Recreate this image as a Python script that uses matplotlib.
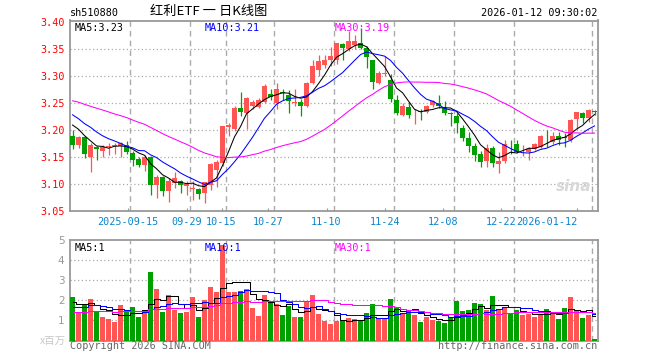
import numpy as np
import matplotlib
matplotlib.use("Agg")
import matplotlib.pyplot as plt

# daily K data, 2025-09-01 .. 2026-01-12 (88 trading days)
opens = [3.189, 3.173, 3.187, 3.151, 3.169, 3.162, 3.168, 3.170, 3.170, 3.173,
         3.157, 3.147, 3.136, 3.151, 3.098, 3.113, 3.088, 3.102, 3.106, 3.096,
         3.092, 3.091, 3.083, 3.099, 3.127, 3.140, 3.205, 3.202, 3.241, 3.231,
         3.245, 3.243, 3.251, 3.267, 3.249, 3.271, 3.265, 3.249, 3.251, 3.244,
         3.286, 3.310, 3.320, 3.330, 3.330, 3.358, 3.350, 3.356, 3.360, 3.352,
         3.329, 3.286, 3.303, 3.293, 3.256, 3.228, 3.243, 3.229, 3.234, 3.234,
         3.247, 3.249, 3.241, 3.231, 3.226, 3.203, 3.186, 3.171, 3.156, 3.143,
         3.167, 3.137, 3.143, 3.173, 3.174, 3.159, 3.159, 3.165, 3.168, 3.189,
         3.178, 3.188, 3.187, 3.182, 3.220, 3.231, 3.222, 3.234]
highs = [3.200, 3.189, 3.189, 3.176, 3.171, 3.173, 3.176, 3.176, 3.177, 3.180,
         3.162, 3.151, 3.154, 3.152, 3.117, 3.115, 3.111, 3.123, 3.108, 3.105,
         3.105, 3.093, 3.104, 3.139, 3.144, 3.208, 3.213, 3.245, 3.271, 3.260,
         3.255, 3.259, 3.284, 3.276, 3.287, 3.276, 3.273, 3.275, 3.258, 3.289,
         3.329, 3.338, 3.339, 3.353, 3.361, 3.361, 3.382, 3.375, 3.388, 3.355,
         3.330, 3.309, 3.336, 3.304, 3.265, 3.249, 3.251, 3.238, 3.238, 3.247,
         3.256, 3.265, 3.253, 3.233, 3.232, 3.209, 3.196, 3.176, 3.162, 3.174,
         3.170, 3.159, 3.182, 3.182, 3.182, 3.172, 3.168, 3.176, 3.190, 3.200,
         3.196, 3.196, 3.194, 3.220, 3.234, 3.233, 3.238, 3.236]
lows = [3.165, 3.167, 3.148, 3.122, 3.144, 3.150, 3.154, 3.156, 3.150, 3.156,
        3.134, 3.131, 3.125, 3.080, 3.075, 3.079, 3.067, 3.093, 3.083, 3.080,
        3.071, 3.072, 3.066, 3.090, 3.094, 3.133, 3.188, 3.198, 3.225, 3.202,
        3.239, 3.241, 3.249, 3.255, 3.238, 3.255, 3.232, 3.244, 3.225, 3.243,
        3.284, 3.299, 3.314, 3.318, 3.321, 3.330, 3.346, 3.350, 3.350, 3.315,
        3.275, 3.284, 3.299, 3.251, 3.228, 3.225, 3.222, 3.211, 3.218, 3.231,
        3.243, 3.240, 3.228, 3.207, 3.194, 3.180, 3.159, 3.143, 3.131, 3.131,
        3.131, 3.120, 3.139, 3.156, 3.157, 3.152, 3.145, 3.164, 3.166, 3.168,
        3.174, 3.172, 3.168, 3.177, 3.202, 3.213, 3.214, 3.227]
closes = [3.173, 3.187, 3.155, 3.173, 3.165, 3.168, 3.171, 3.173, 3.176, 3.160,
          3.144, 3.136, 3.151, 3.098, 3.114, 3.088, 3.106, 3.112, 3.098, 3.101,
          3.093, 3.082, 3.104, 3.138, 3.141, 3.207, 3.210, 3.241, 3.233, 3.259,
          3.251, 3.256, 3.282, 3.261, 3.275, 3.269, 3.253, 3.252, 3.244, 3.287,
          3.318, 3.327, 3.330, 3.336, 3.360, 3.351, 3.365, 3.365, 3.352, 3.335,
          3.288, 3.306, 3.305, 3.257, 3.231, 3.245, 3.228, 3.230, 3.233, 3.245,
          3.253, 3.244, 3.231, 3.230, 3.213, 3.185, 3.171, 3.154, 3.141, 3.167,
          3.139, 3.143, 3.174, 3.172, 3.160, 3.160, 3.165, 3.174, 3.188, 3.188,
          3.188, 3.182, 3.186, 3.219, 3.233, 3.222, 3.236, 3.233]
# volume, millions of shares
volumes = [2.18, 1.40, 1.77, 2.07, 1.40, 1.18, 1.07, 0.92, 1.77, 1.40,
           1.67, 1.18, 1.50, 3.42, 2.58, 1.42, 2.25, 1.52, 1.37, 1.42,
           2.18, 1.18, 2.00, 2.67, 2.42, 4.73, 2.42, 2.42, 2.47, 2.58,
           1.63, 1.23, 2.28, 1.95, 1.80, 1.28, 1.73, 1.18, 1.18, 1.95,
           2.28, 1.32, 0.98, 0.83, 0.98, 0.98, 1.12, 1.07, 1.02, 1.37,
           1.82, 1.10, 1.08, 2.07, 1.67, 1.37, 1.50, 1.28, 0.93, 1.18,
           1.02, 0.98, 0.88, 1.12, 1.97, 1.47, 1.52, 1.87, 1.82, 1.52,
           2.22, 1.52, 1.63, 1.37, 1.52, 1.27, 1.32, 1.18, 1.28, 1.57,
           1.37, 1.07, 1.62, 2.17, 1.47, 1.12, 1.27, 0.07]
# the 29 sessions before the window (estimated, only feed the moving averages)
prior_close = [3.262, 3.275, 3.281, 3.270, 3.266, 3.279, 3.284, 3.271, 3.268,
               3.276, 3.265, 3.259, 3.272, 3.281, 3.268,
               3.262, 3.255, 3.248, 3.241, 3.252, 3.259, 3.246, 3.240, 3.251,
               3.238, 3.226, 3.214, 3.221, 3.212]
prior_volume = [1.10, 1.35, 1.20, 1.45, 1.05, 1.30, 1.15, 1.50, 1.25, 1.40,
                1.20, 1.10, 1.35, 1.30, 1.45, 1.15, 1.25, 1.30, 1.20, 1.40,
                1.30, 1.55, 1.20, 1.45, 1.50, 1.70, 2.00, 1.75, 1.87]

date_idx = [10, 20, 26, 34, 44, 54, 64, 74, 87]
date_lbl = ["2025-09-15", "09-29", "10-15", "10-27", "11-10", "11-24",
            "12-08", "12-22", "2026-01-12"]

RED = "#ff5555"
GREEN = "#00a000"
GRID = "#aaaaaa"
FRAME = "#999999"
MONO = "DejaVu Sans Mono"

n = len(closes)
x = np.arange(n)
o = np.array(opens); c = np.array(closes)
h = np.array(highs); l = np.array(lows)
v = np.array(volumes)
up = c >= o
cols = [RED if u else GREEN for u in up]


def ma(prior, vals, k):
    s = np.concatenate([prior, vals])
    out = np.convolve(s, np.ones(k) / k, mode="valid")
    return out[-len(vals):]


fig = plt.figure(figsize=(6.6, 3.6), dpi=100)
ax = fig.add_axes([70 / 660, 1 - 211.3 / 360, 527.7 / 660, 190.8 / 360])
axv = fig.add_axes([70 / 660, 1 - 340.5 / 360, 527.7 / 660, 100.5 / 360])

xl = (-0.42, 87.53)

# candles
ax.vlines(x, l, h, colors=cols, linewidth=0.9, zorder=3)
body = np.maximum(np.abs(c - o), 0.0012)
ax.bar(x, body, bottom=np.minimum(o, c), width=0.8, color=cols,
       linewidth=0, zorder=4)

ma5 = ma(prior_close, c, 5)
ma10 = ma(prior_close, c, 10)
ma30 = ma(prior_close, c, 30)
ax.plot(x, ma5, color="black", lw=0.75, zorder=5)
ax.plot(x, ma10, color="#0000ff", lw=0.75, zorder=5)
ax.plot(x, ma30, color="#ff00ff", lw=0.75, zorder=5)

ax.set_xlim(*xl)
ax.set_ylim(3.05, 3.402)
yt = np.arange(3.05, 3.401, 0.05)
ax.set_yticks(yt)
ax.set_yticklabels(["%.2f" % t for t in yt], color="#ff0000",
                   fontfamily=MONO, fontsize=7.3)
for t in yt[1:-1]:
    ax.axhline(t, color=GRID, lw=0.9, ls=(0, (1, 2)), zorder=1)

# label scale (sina places labels on a slightly narrower slot grid)
lab_x = [xl[0] + i * (xl[1] - xl[0]) / 90.5 for i in date_idx]
ax.set_xticks(lab_x)
ax.set_xticklabels(date_lbl, color="#0a84cc", fontfamily=MONO, fontsize=7.3)
ax.get_xticklabels()[-1].set_horizontalalignment("right")
ax.tick_params(axis="x", direction="in", length=2, color=FRAME, pad=4)
ax.tick_params(axis="y", length=0, pad=4)

for a in (ax, axv):
    for i in date_idx:
        a.axvline(i - 0.42, color=GRID, lw=1, ls=(0, (4, 3)), zorder=1)
    for s in a.spines.values():
        s.set_color(FRAME)
        s.set_linewidth(1.3)

ax.text(0.009, 0.985, "MA5:%.2f" % ma5[-1], transform=ax.transAxes,
        fontfamily=MONO, fontsize=7.3, color="black", va="top")
ax.text(0.255, 0.985, "MA10:%.2f" % ma10[-1], transform=ax.transAxes,
        fontfamily=MONO, fontsize=7.3, color="#0000ff", va="top")
ax.text(0.501, 0.985, "MA30:%.2f" % ma30[-1], transform=ax.transAxes,
        fontfamily=MONO, fontsize=7.3, color="#ff00ff", va="top")
ax.text(0.955, 0.13, "sina", transform=ax.transAxes, fontsize=11,
        fontweight="bold", style="italic", color="#d8d8d8", ha="center",
        va="center", zorder=2)

# volume
axv.bar(x, v, width=0.8, color=cols, linewidth=0, zorder=3)
vma5 = ma(prior_volume, v, 5)
vma10 = ma(prior_volume, v, 10)
vma30 = ma(prior_volume, v, 30)
axv.plot(x, vma5, color="black", lw=0.75, drawstyle="steps-mid", zorder=4)
axv.plot(x, vma10, color="#0000ff", lw=0.75, drawstyle="steps-mid", zorder=4)
axv.plot(x, vma30, color="#ff00ff", lw=0.75, drawstyle="steps-mid", zorder=4)
axv.set_xlim(*xl)
axv.set_ylim(0, 5)
axv.set_xticks([])
axv.set_yticks([1, 2, 3, 4, 5])
axv.set_yticklabels(["1", "2", "3", "4", "5"], color="#999999", fontsize=7.5)
axv.tick_params(axis="y", length=0, pad=4)
for t in [1, 2, 3, 4]:
    axv.axhline(t, color=GRID, lw=0.9, ls=(0, (1, 2)), zorder=1)
axv.text(0.009, 0.97, "MA5:%.0f" % vma5[-1], transform=axv.transAxes,
         fontfamily=MONO, fontsize=7.3, color="black", va="top")
axv.text(0.255, 0.97, "MA10:%.0f" % vma10[-1], transform=axv.transAxes,
         fontfamily=MONO, fontsize=7.3, color="#0000ff", va="top")
axv.text(0.501, 0.97, "MA30:%.0f" % vma30[-1], transform=axv.transAxes,
         fontfamily=MONO, fontsize=7.3, color="#ff00ff", va="top")

# header / footer
fig.text(70 / 660, 1 - 13 / 360, "sh510880", fontfamily=MONO, fontsize=7.3,
         va="center")
fig.text(209 / 660, 1 - 12 / 360, "红利ETF 一 日K线图",
         family=["Noto Sans CJK SC", "DejaVu Sans"], fontsize=9.5,
         ha="center", va="center")
fig.text(597 / 660, 1 - 13 / 360, "2026-01-12 09:30:02", fontfamily=MONO,
         fontsize=7.3, ha="right", va="center")
fig.text(70 / 660, 1 - 346 / 360, "Copyright 2026 SINA.COM",
         fontfamily=MONO, fontsize=7.3, color="#666666", va="center")
fig.text(597 / 660, 1 - 346 / 360, "http://finance.sina.com.cn",
         fontfamily=MONO, fontsize=7.3, color="#666666", ha="right",
         va="center")
fig.text(66 / 660, 1 - 341 / 360, "x百万",
         family=["Noto Sans CJK SC", "DejaVu Sans"], fontsize=7.5,
         color="#c8c8c8", ha="right", va="center")

fig.savefig("out.png", dpi=100)
